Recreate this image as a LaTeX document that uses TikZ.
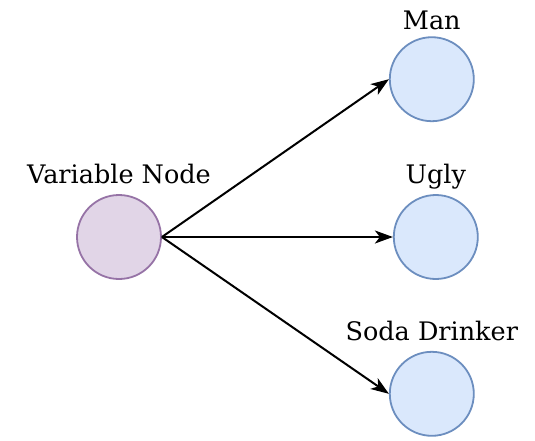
\documentclass[tikz,border=0pt]{standalone}
\usepackage{fontspec}
\setmainfont{DejaVu Serif}
\usetikzlibrary{arrows.meta,positioning}

\definecolor{varfill}{HTML}{E1D5E7}
\definecolor{varline}{HTML}{9673A6}
\definecolor{valfill}{HTML}{DAE8FC}
\definecolor{valline}{HTML}{6C8EBF}

\begin{document}
\begin{tikzpicture}[
  x=1pt, y=-1pt,
  ball/.style={circle, minimum size=84pt, inner sep=0pt, line width=1.8pt},
  varnode/.style={ball, draw=varline, fill=varfill},
  valnode/.style={ball, draw=valline, fill=valfill},
  lbl/.style={font=\fontsize{25.5}{30}\selectfont, text depth=0pt, inner sep=0pt},
  every label/.style={lbl},
  label distance=10pt,
  arr/.style={-{Stealth[length=18pt, width=13pt, inset=5pt]}, line width=2pt}
]
  \useasboundingbox (0,0) rectangle (535,440);
  \node[varnode, label=above:Variable Node] (var) at (119,237) {};
  \node[valnode, right=231pt of var, label=above:Ugly] (ugly) {};
  \node[valnode, above=72pt of ugly, xshift=-4pt, label={[label distance=7pt]above:Man}] (man) {};
  \node[valnode, below=71pt of ugly, xshift=-4pt, label=above:Soda Drinker] (soda) {};
  \draw[arr] (var.east) -- (man.west);
  \draw[arr] (var.east) -- (ugly.west);
  \draw[arr] (var.east) -- (soda.west);
\end{tikzpicture}
\end{document}
